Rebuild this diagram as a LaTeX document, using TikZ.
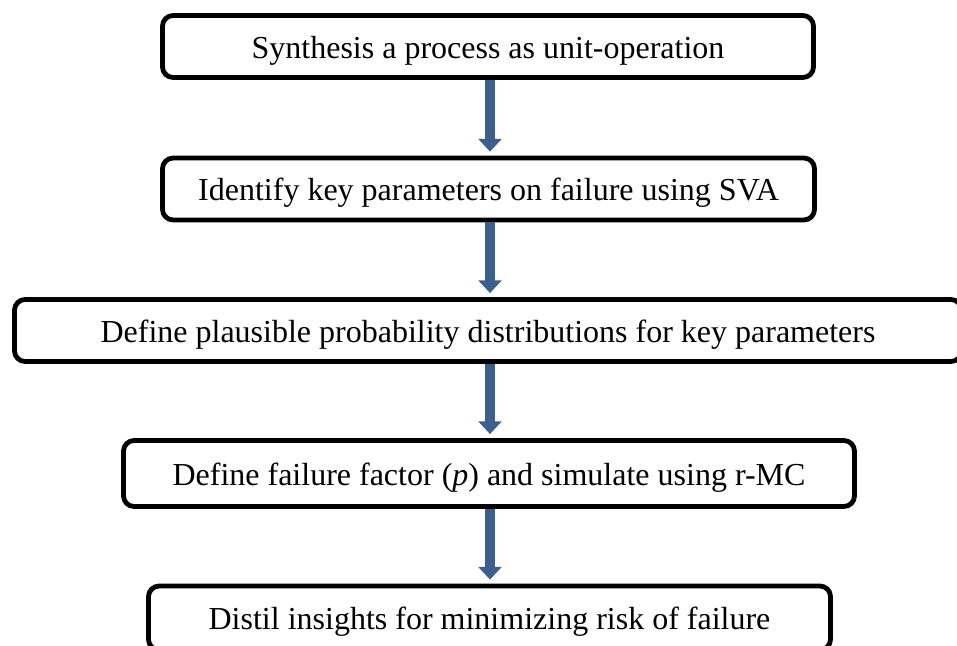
\documentclass[tikz,border=0pt]{standalone}
\usepackage{fontspec}
\setmainfont{Liberation Serif}
\usetikzlibrary{arrows.meta}
\definecolor{flowblue}{RGB}{60,96,142}
\def\lw{3.6pt}
\def\boxh{62}

\begin{document}
\begin{tikzpicture}[x=0.75pt, y=-0.75pt, line join = round,
	stage/.style = {draw, line width=\lw, rounded corners=8pt, inner sep=0pt,
		minimum height=\boxh*0.75pt, text height=22.5pt, text depth=5.25pt,
		font=\fontsize{24}{28}\selectfont},
	flow/.style = {draw=flowblue, line width=7.5pt, line cap=butt,
		-{Triangle[width=17pt, length=9.5pt]}, shorten >=3pt}]
		% Frame
		\useasboundingbox (0,0) rectangle (957,646);
		
		% Stages
		\node[stage, minimum width=651*0.75pt] (synth) at (488,46.5) {Synthesis a process as unit-operation};
		\node[stage, minimum width=652*0.75pt] (ident) at (488.5,189) {Identify key parameters on failure using SVA};
		\node[stage, minimum width=947*0.75pt] (distr) at (488,330.5) {Define plausible probability distributions for key parameters};
		\node[stage, minimum width=731*0.75pt, minimum height=66*0.75pt] (simul) at (489,473.5) {Define failure factor (\textit{p}) and simulate using r-MC};
		\node[stage, minimum width=682*0.75pt, minimum height=64*0.75pt] (insig) at (489.5,618) {Distil insights for minimizing risk of failure};
		
		% Arrows
		\draw[flow] (synth.south -| 490,0) -- (ident.north -| 490,0);
		\draw[flow] (ident.south -| 490,0) -- (distr.north -| 490,0);
		\draw[flow] (distr.south -| 490,0) -- (simul.north -| 490,0);
		\draw[flow] (simul.south -| 490,0) -- (insig.north -| 490,0);
	\end{tikzpicture}
\end{document}
